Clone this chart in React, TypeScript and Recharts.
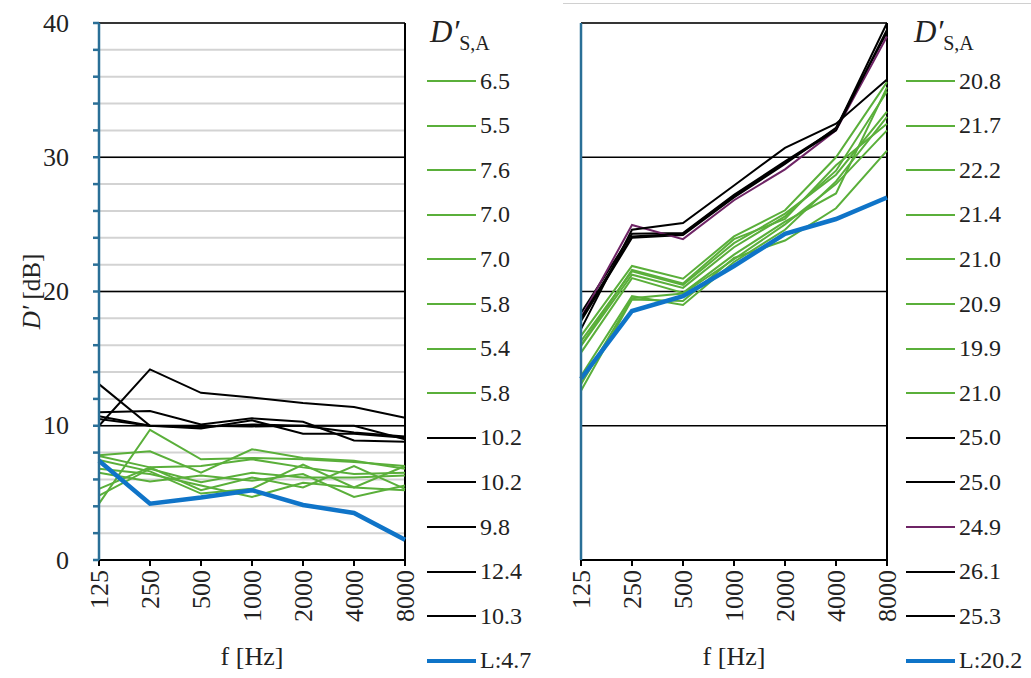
import React from 'react';
import { LineChart, Line, XAxis, YAxis, CartesianGrid, ReferenceLine } from 'recharts';

const freqs = ['125', '250', '500', '1000', '2000', '4000', '8000'];
const yTicks = [0, 2, 4, 6, 8, 10, 12, 14, 16, 18, 20, 22, 24, 26, 28, 30, 32, 34, 36, 38, 40];
const majorTicks = [10, 20, 30, 40];

// Left panel
const leftGreen = [
  [4.2, 9.7, 7.5, 7.6, 7.5, 7.3, 7.0],
  [7.8, 8.1, 6.5, 8.25, 7.6, 7.4, 6.8],
  [7.75, 6.9, 7.0, 7.5, 6.9, 6.4, 6.5],
  [4.8, 6.8, 5.8, 6.5, 6.15, 6.15, 6.3],
  [6.8, 6.4, 5.55, 4.7, 5.75, 5.4, 7.0],
  [6.5, 5.85, 6.3, 5.9, 6.4, 4.7, 5.55],
  [5.3, 6.9, 5.2, 6.15, 5.4, 7.0, 5.3],
  [7.45, 6.6, 4.95, 5.3, 7.1, 5.4, 5.2],
];
const leftGreenLabels = ['6.5', '5.5', '7.6', '7.0', '7.0', '5.8', '5.4', '5.8'];
const leftBlack = [
  [11.0, 11.1, 10.1, 10.55, 10.3, 8.9, 8.8],
  [10.7, 10.0, 9.8, 10.4, 9.4, 9.4, 9.1],
  [13.1, 10.0, 9.9, 10.1, 10.0, 9.5, 9.2],
  [10.0, 14.2, 12.45, 12.1, 11.7, 11.4, 10.6],
  [10.5, 10.0, 10.0, 9.95, 10.0, 10.0, 9.0],
];
const leftBlackLabels = ['10.2', '10.2', '9.8', '12.4', '10.3'];
const leftBlackColors = ['#000000', '#000000', '#000000', '#000000', '#000000'];
const leftBlue = [7.4, 4.2, 4.65, 5.2, 4.1, 3.5, 1.5];
const leftBlueLabel = 'L:4.7';

// Right panel
const rightGreen = [
  [16.7, 21.9, 20.95, 24.1, 26.05, 30.0, 35.6],
  [16.3, 21.5, 20.5, 23.6, 25.8, 28.7, 33.4],
  [15.95, 21.25, 20.27, 23.3, 25.6, 29.0, 34.9],
  [15.45, 21.0, 19.9, 22.75, 25.2, 27.3, 35.2],
  [13.7, 19.65, 19.0, 22.2, 24.6, 28.2, 33.0],
  [12.6, 19.4, 19.3, 22.5, 23.8, 26.2, 30.5],
  [16.0, 21.6, 20.6, 23.9, 25.4, 29.4, 32.5],
  [13.1, 19.5, 19.85, 22.4, 25.0, 28.0, 32.0],
];
const rightGreenLabels = ['20.8', '21.7', '22.2', '21.4', '21.0', '20.9', '19.9', '21.0'];
const rightBlack = [
  [18.4, 24.3, 24.35, 27.2, 29.7, 32.1, 40.0],
  [17.8, 24.0, 24.2, 27.0, 29.5, 32.2, 39.3],
  [18.05, 24.96, 23.9, 26.8, 29.1, 32.0, 39.0],
  [17.2, 24.6, 25.1, 27.9, 30.7, 32.5, 35.8],
  [18.0, 24.1, 24.3, 27.1, 29.6, 32.0, 39.5],
];
const rightBlackLabels = ['25.0', '25.0', '24.9', '26.1', '25.3'];
const rightBlackColors = ['#000000', '#000000', '#6e2465', '#000000', '#000000'];
const rightBlue = [13.5, 18.55, 19.65, 21.9, 24.3, 25.4, 27.0];
const rightBlueLabel = 'L:20.2';

const GREEN = '#5aaf3a';
const BLUE = '#0f74c8';
const AXIS_BLUE = '#2a6f97';
const FONT = "'Liberation Serif', 'Times New Roman', serif";

type Series = { key: string; values: number[]; color: string; width: number; label: string };

function buildSeries(green: number[][], greenLabels: string[], black: number[][], blackLabels: string[], blackColors: string[], blue: number[], blueLabel: string): Series[] {
  const s: Series[] = [];
  green.forEach((v, i) => s.push({ key: 'g' + i, values: v, color: GREEN, width: 2, label: greenLabels[i] }));
  black.forEach((v, i) => s.push({ key: 'k' + i, values: v, color: blackColors[i], width: 2, label: blackLabels[i] }));
  s.push({ key: 'b', values: blue, color: BLUE, width: 4.5, label: blueLabel });
  return s;
}

function buildRows(series: Series[]) {
  return freqs.map((f, i) => {
    const row: Record<string, any> = { f };
    series.forEach((s) => (row[s.key] = s.values[i]));
    return row;
  });
}

const YTick = (props: any) => {
  const { x, y, payload } = props;
  if (payload.value % 10 !== 0) return null;
  return (
    <text x={x - 22} y={y} textAnchor="end" dominantBaseline="central" fontSize={26} fontFamily={FONT} fill="#222">
      {payload.value}
    </text>
  );
};

const XTick = (props: any) => {
  const { x, y, payload } = props;
  const yy = y + 2;
  return (
    <text x={x} y={yy} transform={`rotate(-90, ${x}, ${yy})`} textAnchor="end" dominantBaseline="central" fontSize={26} fontFamily={FONT} fill="#222">
      {payload.value}
    </text>
  );
};

const YLabel = (props: any) => {
  const vb = props.viewBox || {};
  const cx = (vb.x || 0) + 31;
  const cy = (vb.y || 0) + (vb.height || 0) / 2;
  return (
    <text x={cx} y={cy} transform={`rotate(-90, ${cx}, ${cy})`} textAnchor="middle" dominantBaseline="central" fontSize={25} fontFamily={FONT} fill="#222">
      <tspan fontStyle="italic">D′</tspan>
      <tspan> [dB]</tspan>
    </text>
  );
};

function Panel({ series, showYLabels }: { series: Series[]; showYLabels: boolean }) {
  const rows = buildRows(series);
  return (
    <LineChart width={420} height={678} data={rows} margin={{ top: 23, right: 15, bottom: 0, left: 0 }}>
      <CartesianGrid vertical={false} stroke="#d3d3d3" strokeWidth={2} />
      {majorTicks.map((t) => (
        <ReferenceLine key={t} y={t} stroke="#000" strokeWidth={1.6} />
      ))}
      <ReferenceLine x="8000" stroke="#000" strokeWidth={2} />
      <XAxis
        dataKey="f"
        height={118}
        tickSize={6}
        tickLine={{ stroke: '#000', strokeWidth: 2 }}
        axisLine={{ stroke: '#000', strokeWidth: 2 }}
        tick={<XTick />}
        interval={0}
        label={{ value: 'f [Hz]', position: 'insideBottom', offset: 13, fontSize: 26, fontFamily: FONT, fill: '#222' }}
      />
      <YAxis
        width={99}
        domain={[0, 40]}
        ticks={yTicks}
        interval={0}
        tickSize={6}
        tickLine={{ stroke: AXIS_BLUE, strokeWidth: 2.5 }}
        axisLine={{ stroke: AXIS_BLUE, strokeWidth: 2.5 }}
        tick={showYLabels ? <YTick /> : false}
        label={showYLabels ? <YLabel /> : undefined}
      />
      {series.map((s) => (
        <Line
          key={s.key}
          dataKey={s.key}
          stroke={s.color}
          strokeWidth={s.width}
          dot={false}
          activeDot={false}
          isAnimationActive={false}
          type="linear"
        />
      ))}
    </LineChart>
  );
}

function LegendBox({ series, left, titleLeft }: { series: Series[]; left: number; titleLeft: number }) {
  return (
    <>
      <div style={{ position: 'absolute', left: titleLeft, top: 14, fontFamily: FONT, color: '#222', whiteSpace: 'nowrap' }}>
        <span style={{ fontStyle: 'italic', fontSize: 31 }}>D′</span>
        <span style={{ fontSize: 20, position: 'relative', top: 8 }}>S,A</span>
      </div>
      {series.map((s, i) => (
        <div
          key={s.key}
          style={{
            position: 'absolute',
            left,
            top: 81 + i * 44.6 - 15,
            height: 30,
            display: 'flex',
            alignItems: 'center',
            fontFamily: FONT,
            fontSize: 24,
            color: '#222',
            whiteSpace: 'nowrap',
          }}
        >
          <div style={{ width: 49, height: s.width > 3 ? 4 : 2, background: s.color, marginRight: 4 }} />
          <span>{s.label}</span>
        </div>
      ))}
    </>
  );
}

export default function App() {
  const leftSeries = buildSeries(leftGreen, leftGreenLabels, leftBlack, leftBlackLabels, leftBlackColors, leftBlue, leftBlueLabel);
  const rightSeries = buildSeries(rightGreen, rightGreenLabels, rightBlack, rightBlackLabels, rightBlackColors, rightBlue, rightBlueLabel);
  return (
    <div style={{ position: 'absolute', left: 0, top: 0, width: 1031, height: 678, background: '#fff', overflow: 'hidden' }}>
      <div style={{ position: 'absolute', left: 563, top: 3, width: 468, height: 1, background: '#d0d0d0' }} />
      <div style={{ position: 'absolute', left: 0, top: 0 }}>
        <Panel series={leftSeries} showYLabels={true} />
      </div>
      <div style={{ position: 'absolute', left: 482, top: 0 }}>
        <Panel series={rightSeries} showYLabels={false} />
      </div>
      <LegendBox series={leftSeries} left={427} titleLeft={430} />
      <LegendBox series={rightSeries} left={906} titleLeft={914} />
    </div>
  );
}
